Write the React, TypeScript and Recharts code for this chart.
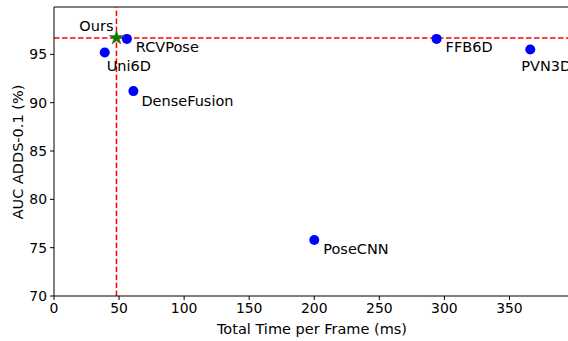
import React from "react";
import {
  ScatterChart,
  Scatter,
  XAxis,
  YAxis,
  ReferenceLine,
  Label,
} from "recharts";

// other methods
const methods = ["Uni6D", "RCVPose", "DenseFusion", "PoseCNN", "FFB6D", "PVN3D"];
const times = [39, 56, 61, 200, 294, 366];
const adds = [95.2, 96.6, 91.2, 75.8, 96.6, 95.5];

// ours
const oursName = "Ours";
const oursTime = 48;
const oursAdds = 96.7;

const xTicks = [0, 50, 100, 150, 200, 250, 300, 350];
const yTicks = [70, 75, 80, 85, 90, 95];

// label placement relative to each marker: [dx, dy, anchor]
const labelOffsets: Record<string, [number, number, string]> = {
  Uni6D: [2, 14, "start"],
  RCVPose: [9, 8, "start"],
  DenseFusion: [8, 10, "start"],
  PoseCNN: [9, 9, "start"],
  FFB6D: [9, 8, "start"],
  PVN3D: [-9, 16, "start"],
  Ours: [-3, -12, "end"],
};

const FONT = "'DejaVu Sans', sans-serif";
const FS_TICK = 13.9;
const FS = 14.5;

const others = methods.map((name, i) => ({ name, time: times[i], adds: adds[i] }));
const ours = [{ name: oursName, time: oursTime, adds: oursAdds }];

function starPath(cx: number, cy: number, R: number) {
  const r = R * 0.38;
  let d = "";
  for (let i = 0; i < 10; i++) {
    const rad = i % 2 === 0 ? R : r;
    const a = -Math.PI / 2 + (i * Math.PI) / 5;
    d += (i === 0 ? "M" : "L") + (cx + rad * Math.cos(a)) + "," + (cy + rad * Math.sin(a));
  }
  return d + "Z";
}

function PointLabel({ cx, cy, name }: { cx: number; cy: number; name: string }) {
  const [dx, dy, anchor] = labelOffsets[name];
  return (
    <text
      x={cx + dx}
      y={cy + dy}
      textAnchor={anchor as any}
      dominantBaseline="central"
      fontFamily={FONT}
      fontSize={FS}
      fill="#000"
    >
      {name}
    </text>
  );
}

const Dot = (props: any) => {
  const { cx, cy, payload } = props;
  return (
    <g>
      <circle cx={cx} cy={cy} r={5} fill="#0000ff" />
      <PointLabel cx={cx} cy={cy} name={payload.name} />
    </g>
  );
};

const Star = (props: any) => {
  const { cx, cy, payload } = props;
  return (
    <g>
      <path d={starPath(cx, cy, 7.5)} fill="#008000" stroke="#556b2f" strokeWidth={0.6} />
      <PointLabel cx={cx} cy={cy} name={payload.name} />
    </g>
  );
};

export default function App() {
  const tick = { fontFamily: FONT, fontSize: FS_TICK, fill: "#000" };
  return (
    <div style={{ position: "fixed", left: 0, top: 0, background: "#fff" }}>
      <ScatterChart
        width={568}
        height={341}
        margin={{ top: 7, right: 0, bottom: 0, left: 0 }}
      >
        <XAxis
          type="number"
          dataKey="time"
          domain={[0, 395]}
          ticks={xTicks}
          allowDataOverflow
          height={45}
          stroke="#000"
          tick={tick}
          tickSize={4}
          tickMargin={3}
        >
          <Label
            content={() => (
              <text
                x={312}
                y={329}
                textAnchor="middle"
                dominantBaseline="central"
                fontFamily={FONT}
                fontSize={FS}
                fill="#000"
              >
                Total Time per Frame (ms)
              </text>
            )}
          />
        </XAxis>
        <YAxis
          type="number"
          dataKey="adds"
          domain={[70, 99.9]}
          ticks={yTicks}
          allowDataOverflow
          width={54}
          stroke="#000"
          tick={tick}
          tickSize={4}
          tickMargin={3}
        >
          <Label
            content={() => (
              <text
                x={18}
                y={152}
                transform="rotate(-90 18 152)"
                textAnchor="middle"
                dominantBaseline="central"
                fontFamily={FONT}
                fontSize={FS}
                fill="#000"
              >
                AUC ADDS-0.1 (%)
              </text>
            )}
          />
        </YAxis>
        <ReferenceLine y={99.9} stroke="#000" strokeWidth={1} />
        <Scatter data={others} shape={Dot} isAnimationActive={false} />
        <ReferenceLine x={oursTime} stroke="#ff0000" strokeWidth={1.5} strokeDasharray="5.5 2.5" />
        <ReferenceLine y={oursAdds} stroke="#ff0000" strokeWidth={1.5} strokeDasharray="5.5 2.5" />
        <Scatter data={ours} shape={Star} isAnimationActive={false} />
      </ScatterChart>
    </div>
  );
}
